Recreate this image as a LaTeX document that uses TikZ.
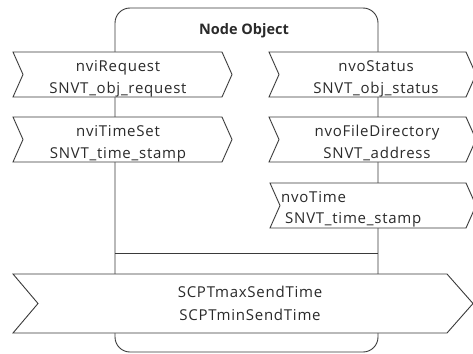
\documentclass[tikz,border=0pt]{standalone}
\usepackage{fontspec}
\setmainfont{Open Sans}
\newfontfamily\wide[LetterSpace=5]{Open Sans}
\definecolor{ln}{HTML}{3A3A3A}
\definecolor{tx}{HTML}{2A2A2A}
\begin{document}
\begin{tikzpicture}[x=1pt,y=-1pt,
  shp/.style={draw=ln,line width=0.9pt,fill=white,line join=miter},
  lbl/.style={anchor=base,inner sep=0pt,text=tx,font=\wide\fontsize{15}{18}\selectfont}]
\useasboundingbox (0,0) rectangle (473,353);
% main object box
\draw[draw=ln,line width=0.9pt,rounded corners=15pt] (115,8) rectangle (378,352);
\draw[draw=ln,line width=0.9pt] (115,253) -- (378,253);
\node[lbl,font=\bfseries\fontsize{14.5}{18}\selectfont] (title) at (244,35) {Node Object};
% inputs
\draw[shp] (13,52) -- (222,52) -- (232,74.5) -- (222,97) -- (13,97) -- (23,74.5) -- cycle;
\node[lbl] (req1) at (118,71) {nviRequest};
\node[lbl] (req2) at (118,93) {SNVT\_obj\_request};
\draw[shp] (13,117) -- (222,117) -- (232,139.5) -- (222,162) -- (13,162) -- (23,139.5) -- cycle;
\node[lbl] (ts1) at (118,136) {nviTimeSet};
\node[lbl] (ts2) at (118,158) {SNVT\_time\_stamp};
% outputs
\draw[shp] (269,52) -- (466,52) -- (476,74.5) -- (466,97) -- (269,97) -- (279,74.5) -- cycle;
\node[lbl] (st1) at (376,71) {nvoStatus};
\node[lbl] (st2) at (376,93) {SNVT\_obj\_status};
\draw[shp] (269,117) -- (466,117) -- (476,139.5) -- (466,162) -- (269,162) -- (279,139.5) -- cycle;
\node[lbl] (fd1) at (377,136) {nvoFileDirectory};
\node[lbl] (fd2) at (377,158) {SNVT\_address};
\draw[shp] (270,183) -- (466,183) -- (476,205.5) -- (466,228) -- (270,228) -- (280,205.5) -- cycle;
\node[lbl,anchor=base west] (tm1) at (281,202) {nvoTime};
\node[lbl,anchor=base west] (tm2) at (285,223) {SNVT\_time\_stamp};
% configuration properties
\draw[shp] (13,274) -- (447,274) -- (473,303.5) -- (447,333) -- (13,333) -- (38,303.5) -- cycle;
\node[lbl] (cp1) at (250,297) {SCPTmaxSendTime};
\node[lbl] (cp2) at (250,320) {SCPTminSendTime};
\end{tikzpicture}
\end{document}
